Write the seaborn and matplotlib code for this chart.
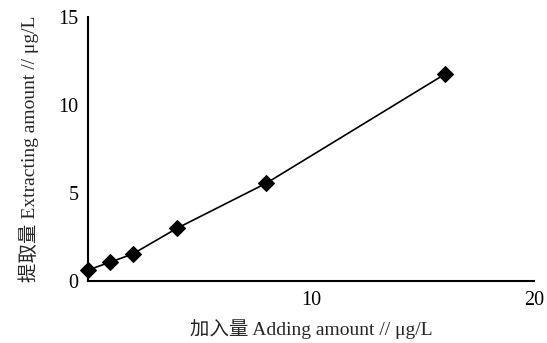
import pandas as pd
import matplotlib.pyplot as plt
import seaborn as sns

# DADOS DO GRÁFICO
adicionado = [0, 1, 2, 4, 8, 16]
extraido = [0.62, 1.07, 1.53, 3.0, 5.56, 11.75]
x_ticks = [10, 20]
y_ticks = [0, 5, 10, 15]

dados = pd.DataFrame({'Adicionado': adicionado, 'Extraido': extraido})

sns.set_style('white')
plt.rcParams['font.family'] = ['Liberation Serif', 'Noto Sans CJK SC', 'DejaVu Sans']

fig = plt.figure(figsize = (5.47, 3.43), dpi = 100)
ax = fig.add_axes([0.161, 0.181, 0.815, 0.769])
sns.lineplot(x = 'Adicionado', y = 'Extraido', data = dados, color = 'black', linewidth = 1.2,
             marker = 'D', markersize = 8, markeredgecolor = 'black', clip_on = False, zorder = 5, ax = ax)

ax.set_xlim(0, 20)
ax.set_ylim(0, 15)
ax.set_xticks(x_ticks)
ax.set_yticks(y_ticks)
ax.tick_params(direction = 'in', length = 4, width = 1, labelsize = 14.5, colors = 'black', pad = 7)
for lado in ['top', 'right']:
    ax.spines[lado].set_visible(False)
for lado in ['left', 'bottom']:
    ax.spines[lado].set_color('black')
    ax.spines[lado].set_linewidth(1.5)

ax.set_xlabel('加入量 Adding amount // μg/L', fontsize = 14, labelpad = 7)
ax.set_ylabel('提取量 Extracting amount // μg/L', fontsize = 14, labelpad = 14)

plt.savefig('out.png', dpi = 100)
